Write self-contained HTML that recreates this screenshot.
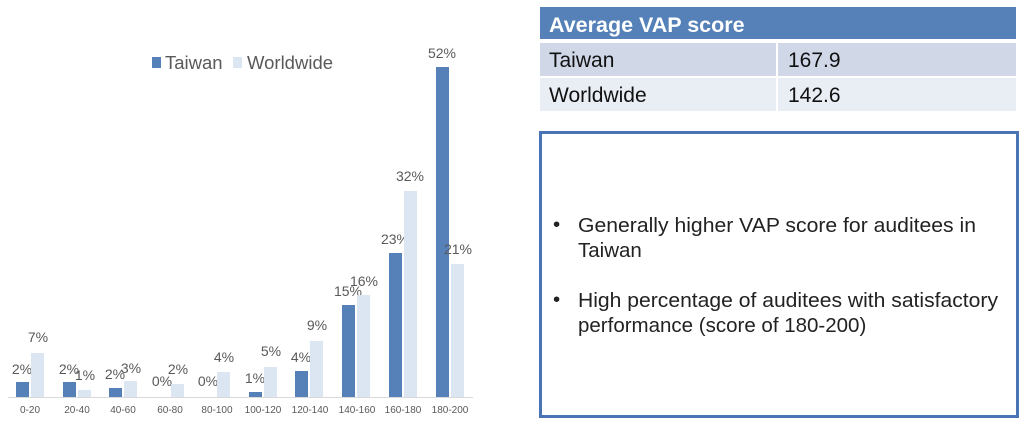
<!DOCTYPE html>
<html><head><meta charset="utf-8"><style>
body{margin:0;width:1024px;height:425px;background:#fff;overflow:hidden;font-family:"Liberation Sans",sans-serif}
</style></head><body>
<svg width="1024" height="425" style="position:absolute;left:0;top:0" font-family="Liberation Sans, sans-serif">
<rect x="152" y="57" width="9" height="11" fill="#5580b8"/>
<text x="165" y="69" font-size="18.5" fill="#595959">Taiwan</text>
<rect x="233" y="57" width="9" height="11" fill="#dce6f2"/>
<text x="247" y="69" font-size="18.5" fill="#595959">Worldwide</text>
<line x1="8" y1="397.5" x2="473" y2="397.5" stroke="#d9d9d9" stroke-width="1"/>
<g font-size="14" fill="#595959" text-anchor="middle">
<rect x="16" y="382" width="13" height="15" fill="#5580b8"/><text x="22" y="374">2%</text>
<rect x="31" y="353" width="13" height="44" fill="#dce6f2"/><text x="38" y="342">7%</text>
<rect x="63" y="382" width="13" height="15" fill="#5580b8"/><text x="69" y="374">2%</text>
<rect x="78" y="390" width="13" height="7" fill="#dce6f2"/><text x="85" y="380">1%</text>
<rect x="109" y="388" width="13" height="9" fill="#5580b8"/><text x="115" y="379">2%</text>
<rect x="124" y="381" width="13" height="16" fill="#dce6f2"/><text x="131" y="373">3%</text>
<text x="162" y="386">0%</text>
<rect x="171" y="384" width="13" height="13" fill="#dce6f2"/><text x="178" y="374">2%</text>
<text x="208" y="386">0%</text>
<rect x="217" y="372" width="13" height="25" fill="#dce6f2"/><text x="224" y="362">4%</text>
<rect x="249" y="392" width="13" height="5" fill="#5580b8"/><text x="255" y="383">1%</text>
<rect x="264" y="367" width="13" height="30" fill="#dce6f2"/><text x="271" y="356">5%</text>
<rect x="295" y="371" width="13" height="26" fill="#5580b8"/><text x="301" y="362">4%</text>
<rect x="310" y="341" width="13" height="56" fill="#dce6f2"/><text x="317" y="330">9%</text>
<rect x="342" y="305" width="13" height="92" fill="#5580b8"/><text x="348" y="296">15%</text>
<rect x="357" y="295" width="13" height="102" fill="#dce6f2"/><text x="364" y="286">16%</text>
<rect x="389" y="253" width="13" height="144" fill="#5580b8"/><text x="395" y="244">23%</text>
<rect x="404" y="191" width="13" height="206" fill="#dce6f2"/><text x="410" y="181">32%</text>
<rect x="436" y="67" width="13" height="330" fill="#5580b8"/><text x="442" y="58">52%</text>
<rect x="451" y="264" width="13" height="133" fill="#dce6f2"/><text x="458" y="254">21%</text>
</g>
<g font-size="10" fill="#595959" text-anchor="middle">
<text x="30" y="413">0-20</text><text x="77" y="413">20-40</text><text x="123" y="413">40-60</text>
<text x="170" y="413">60-80</text><text x="217" y="413">80-100</text><text x="263" y="413">100-120</text>
<text x="310" y="413">120-140</text><text x="357" y="413">140-160</text><text x="403" y="413">160-180</text>
<text x="450" y="413">180-200</text>
</g>
<rect x="540" y="7" width="476" height="32" fill="#5580b8"/>
<text x="549" y="32" font-size="21.5" font-weight="bold" fill="#fff">Average VAP score</text>
<rect x="540" y="43" width="236" height="33" fill="#d0d8e8"/>
<rect x="778" y="43" width="238" height="33" fill="#d0d8e8"/>
<rect x="540" y="78" width="236" height="33" fill="#e9edf4"/>
<rect x="778" y="78" width="238" height="33" fill="#e9edf4"/>
<g font-size="21" fill="#111"><text x="549" y="67">Taiwan</text><text x="788" y="67">167.9</text>
<text x="549" y="102">Worldwide</text><text x="788" y="102">142.6</text></g>
<rect x="540.5" y="132.5" width="477" height="284" fill="none" stroke="#4a74b4" stroke-width="3"/>
<g font-size="20.5" fill="#222">
<text x="553" y="231">•</text><text x="578" y="232" textLength="398" lengthAdjust="spacingAndGlyphs">Generally higher VAP score for auditees in</text>
<text x="578" y="257">Taiwan</text>
<text x="553" y="306">•</text><text x="578" y="307" textLength="420" lengthAdjust="spacingAndGlyphs">High percentage of auditees with satisfactory</text>
<text x="578" y="332">performance (score of 180-200)</text>
</g>
</svg>
</body></html>
